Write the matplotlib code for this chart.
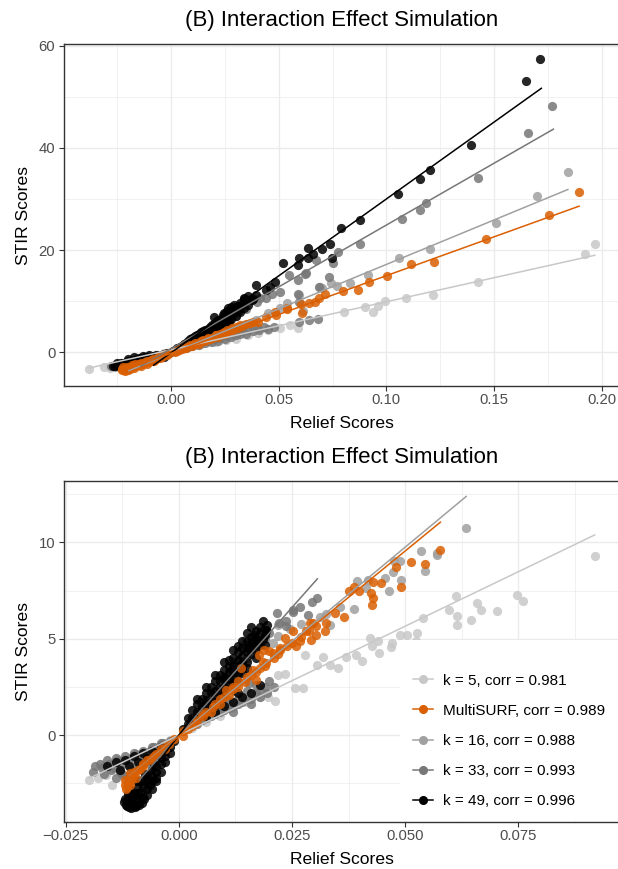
import numpy as np
import matplotlib
matplotlib.use("Agg")
import matplotlib.pyplot as plt
from matplotlib.lines import Line2D
from matplotlib.ticker import MultipleLocator, FuncFormatter

plt.rcParams['font.family'] = ['Liberation Sans', 'DejaVu Sans']

title = "(B) Interaction Effect Simulation"
series_labels = ['k = 5, corr = 0.981', 'MultiSURF, corr = 0.989', 'k = 16, corr = 0.988',
                 'k = 33, corr = 0.993', 'k = 49, corr = 0.996']
series_colors = ['#C8C8C8', '#D95F02', '#A0A0A0', '#777777', '#000000']

# ---- top panel: (relief, stir) pairs
top_k5 = np.array([
    (-0.0379, -3.26), (-0.0311, -2.8), (-0.0284, -3.1), (-0.0247, -2.5), (-0.0215, -2.2), (-0.018, -1.8),
    (-0.015, -1.5), (-0.012, -1.1), (-0.009, -0.8), (-0.006, -0.5), (-0.003, -0.2), (0.003, 0.6),
    (0.006, 0.9), (0.009, 1.2), (0.012, 1.5), (0.015, 1.8), (0.018, 2.0), (0.0211, 2.1), (0.0256, 2.4),
    (0.0302, 2.7), (0.0357, 3.4), (0.0403, 3.7), (0.0449, 4.4), (0.0507, 4.8), (0.0555, 5.3),
    (0.0592, 4.7), (0.0802, 7.8), (0.0901, 8.8), (0.0936, 7.9), (0.0962, 9.1), (0.0995, 10.1),
    (0.1093, 10.6), (0.1214, 11.2), (0.1425, 13.8), (0.1921, 19.2), (0.1967, 21.2)])
top_multisurf = np.array([
    (0.1894, 31.3), (0.1755, 26.8), (0.146, 22.1), (0.1223, 17.6), (0.1114, 17.2), (0.1002, 15.0),
    (0.0919, 13.8), (0.087, 12.2), (0.0797, 12.0), (0.0714, 11.5), (0.0687, 10.7), (0.0668, 9.9),
    (0.0641, 9.6), (0.0604, 9.4), (0.0608, 7.6), (0.054, 8.4), (0.0537, 8.6), (0.0485, 7.9),
    (0.049, 7.3), (0.044, 7.0), (0.0403, 6.0), (0.0381, 6.0), (0.0366, 5.8), (0.032, 5.3),
    (0.0284, 4.7), (0.0247, 4.0), (0.0211, 3.4), (0.0174, 2.7), (0.0137, 2.1), (0.0101, 1.4),
    (0.0064, 0.8), (0.0037, 0.5), (0.002, 0.1), (0.005, 0.6), (0.008, 1.2), (0.012, 1.6),
    (0.015, 2.5), (0.019, 2.9), (0.023, 3.6), (0.026, 4.3), (0.030, 4.9),
    (0.001, 0.2), (0.003, 0.3), (0.004, 0.7), (0.006, 1.0), (0.007, 0.9), (0.009, 1.5), (0.010, 1.2),
    (0.011, 1.8), (0.013, 1.7), (0.014, 2.3), (0.016, 2.3), (0.017, 2.9), (0.018, 2.6), (0.020, 3.0),
    (0.021, 3.3), (0.022, 3.1), (0.024, 3.7), (0.025, 3.6), (0.027, 4.2), (0.029, 4.4), (0.031, 4.7),
    (0.033, 5.2), (0.035, 5.5),
    (-0.0229, -3.5), (-0.021, -3.1), (-0.0192, -2.8), (-0.0165, -2.3), (-0.0137, -2.0),
    (-0.011, -1.7), (-0.0082, -1.3), (-0.0055, -0.8), (-0.0027, -0.4), (-0.022, -2.8),
    (-0.020, -3.4), (-0.017, -3.0), (-0.014, -2.6), (-0.011, -2.2), (-0.008, -1.7),
    (-0.005, -1.2), (-0.018, -2.5), (-0.015, -2.2),
    (-0.001, -0.2), (-0.002, -0.5), (-0.004, -0.6), (-0.004, -0.9), (-0.006, -1.0), (-0.007, -1.3),
    (-0.009, -1.4), (-0.010, -1.8), (-0.012, -1.9), (-0.013, -2.3), (-0.015, -2.5), (-0.016, -2.7),
    (-0.018, -2.9), (-0.019, -3.2), (-0.021, -3.4), (-0.0225, -3.3), (-0.0215, -3.6), (-0.0205, -2.9)])
top_k16 = np.array([
    (-0.026, -2.9), (-0.022, -2.6), (-0.018, -2.2), (-0.014, -1.8), (-0.010, -1.3), (-0.006, -0.8),
    (-0.002, -0.3), (0.003, 0.4), (0.006, 0.8), (0.009, 1.3), (0.012, 1.8), (0.015, 2.3),
    (0.018, 2.7), (0.021, 3.1), (0.024, 3.5), (0.0266, 3.7), (0.0302, 4.4), (0.0339, 5.3),
    (0.0394, 6.3), (0.0449, 7.6), (0.0507, 8.6), (0.054, 9.6), (0.0595, 11.2), (0.0614, 8.1),
    (0.0692, 12.8), (0.0703, 12.6), (0.0742, 13.6), (0.0769, 13.0), (0.083, 13.6), (0.0916, 15.1),
    (0.1059, 18.5), (0.1201, 20.3), (0.1509, 25.3), (0.170, 30.5), (0.1842, 35.2)])
top_k33 = np.array([
    (0.1769, 48.1), (0.1659, 42.9), (0.1425, 34.1), (0.1183, 29.3), (0.1158, 27.8), (0.1073, 26.1),
    (0.0879, 21.2), (0.0775, 19.6), (0.0751, 17.4), (0.0674, 18.0), (0.0623, 15.3), (0.0627, 15.6),
    (0.0549, 15.1), (0.0733, 14.8), (0.059, 14.1), (0.0504, 11.9), (0.0467, 11.5), (0.059, 11.4),
    (0.0412, 10.6), (0.0687, 12.7), (0.0595, 9.9),
    (0.064, 6.4), (0.0595, 6.0), (0.0683, 6.6), (0.007, 0.9), (0.010, 1.2), (0.013, 1.5),
    (0.016, 1.8), (0.019, 2.0), (0.022, 2.3), (0.025, 2.6), (0.028, 3.0), (0.030, 3.3),
    (0.032, 3.5), (0.035, 3.6), (0.038, 4.1), (0.041, 4.4), (0.045, 4.6), (0.048, 4.9),
    (0.005, 1.2), (0.010, 2.4), (0.015, 3.6), (0.020, 4.8), (0.025, 6.0), (0.030, 7.2),
    (0.035, 8.4), (0.040, 9.8), (0.044, 10.6),
    (0.004, 0.6), (0.006, 0.8), (0.008, 1.1), (0.012, 1.7), (0.014, 1.9), (0.017, 2.3), (0.020, 2.6),
    (0.023, 2.9), (0.026, 3.2), (0.029, 3.6), (0.031, 4.0), (0.033, 4.2), (0.036, 4.4), (0.040, 4.7),
    (0.043, 5.0), (0.008, 1.6), (0.012, 2.2), (0.016, 2.8), (0.020, 3.3), (0.024, 3.8), (0.028, 4.4),
    (0.032, 4.9), (0.036, 5.5),
    (-0.028, -2.6), (-0.024, -2.3), (-0.020, -2.0), (-0.016, -1.7), (-0.012, -1.3),
    (-0.008, -0.9), (-0.004, -0.5), (-0.026, -2.5), (-0.022, -2.2), (-0.018, -1.9), (-0.014, -1.5),
    (-0.010, -1.1), (-0.006, -0.7), (-0.002, -0.3)])
top_k49 = np.array([
    (0.1714, 57.3), (0.165, 53.1), (0.1392, 40.6), (0.1203, 35.7), (0.1158, 33.9), (0.1055, 30.9),
    (0.0879, 25.8), (0.0789, 24.4), (0.0738, 21.1), (0.0701, 20.3), (0.0637, 20.5), (0.0661, 19.2),
    (0.0637, 18.4), (0.0749, 18.4), (0.0595, 18.4), (0.0592, 17.1), (0.0518, 17.5), (0.0485, 13.8),
    (0.0458, 12.8), (0.0394, 13.2), (0.0441, 12.2), (0.0394, 11.3), (0.0339, 10.6), (0.0375, 10.2),
    (0.0293, 9.3), (0.0266, 8.6), (0.0247, 7.6), (0.0201, 7.0), (0.0229, 6.3),
    (0.002, 0.5), (0.004, 1.0), (0.005, 1.3), (0.006, 1.7), (0.008, 2.2), (0.009, 2.6),
    (0.010, 2.9), (0.011, 3.2), (0.012, 3.4), (0.013, 3.6), (0.014, 3.9), (0.015, 4.2),
    (0.016, 4.4), (0.017, 4.6), (0.018, 4.9), (0.019, 5.3), (0.020, 5.6), (0.021, 5.9),
    (0.022, 6.3), (0.024, 6.8), (0.026, 7.4), (0.028, 8.0), (0.030, 8.9), (0.032, 9.6),
    (0.035, 10.2), (0.036, 11.0), (0.038, 10.5), (0.007, 1.2), (0.010, 1.8), (0.012, 2.3),
    (0.015, 2.6), (0.018, 3.2), (0.020, 3.6), (0.023, 4.1), (0.016, 3.3), (0.013, 2.9),
    (0.003, 0.9), (0.003, 0.5), (0.005, 1.0), (0.007, 1.8), (0.007, 1.4), (0.009, 2.2), (0.011, 2.6),
    (0.011, 2.0), (0.013, 3.3), (0.014, 2.8), (0.015, 3.5), (0.017, 3.8), (0.017, 4.2), (0.019, 4.4),
    (0.019, 3.7), (0.021, 4.8), (0.021, 5.3), (0.022, 4.4), (0.023, 5.5), (0.024, 6.0), (0.025, 5.2),
    (0.025, 6.6), (0.027, 6.2), (0.027, 7.0), (0.029, 7.5), (0.029, 8.3), (0.031, 8.0), (0.031, 9.0),
    (0.033, 9.3), (0.034, 10.4), (0.026, 8.0), (0.028, 8.8), (0.024, 7.4),
    (0.004, 0.6), (0.006, 1.2), (0.008, 1.6), (0.010, 2.3), (0.012, 2.8), (0.014, 3.3), (0.016, 3.8),
    (0.018, 4.3), (0.020, 4.5), (0.022, 5.0), (0.024, 5.4), (0.026, 6.0), (0.028, 6.6), (0.030, 7.2),
    (0.032, 7.9), (0.034, 8.6), (0.036, 9.2),
    (-0.025, -2.4), (-0.022, -2.0), (-0.020, -1.7), (-0.018, -1.5), (-0.016, -1.3), (-0.014, -1.2),
    (-0.012, -1.0), (-0.010, -0.9), (-0.008, -0.8), (-0.006, -0.7), (-0.004, -0.5), (-0.002, -0.2),
    (-0.021, -2.3), (-0.017, -1.8), (-0.013, -1.5), (-0.009, -1.1), (-0.005, -0.8),
    (-0.026, -2.6), (-0.024, -2.2), (-0.023, -2.1), (-0.019, -1.6), (-0.015, -1.2), (-0.011, -0.9),
    (-0.007, -0.6), (-0.003, -0.3), (-0.019, -2.0), (-0.015, -1.6), (-0.011, -1.3), (-0.007, -1.0),
    (-0.003, -0.6), (-0.001, -0.1), (0.001, 0.2),
    (-0.027, -2.7), (-0.024, -2.6), (-0.021, -2.6), (-0.018, -2.2), (-0.015, -1.9), (-0.012, -1.6),
    (-0.009, -1.4), (-0.006, -1.1), (-0.003, -0.9), (-0.025, -2.0), (-0.020, -2.0), (-0.016, -1.8),
    (-0.013, -0.7), (-0.010, -0.5), (-0.017, -1.0), (-0.020, -1.3)])

# fitted lines (k=5, MultiSURF, k=16, k=33, k=49)
top_fit_slope = [94, 152, 174, 242, 301]
top_fit_icpt = [0.5, -0.2, -0.2, 0.7, -0.1]
top_fit_x0 = [-0.0379, -0.0235, -0.0195, -0.014, -0.008]
top_fit_x1 = [0.1967, 0.1894, 0.1842, 0.1775, 0.1719]

# ---- bottom panel
bot_k5 = np.array([
    (-0.0198, -2.35), (-0.0179, -2.23), (-0.0168, -1.59), (-0.0161, -2.06), (-0.0148, -2.58),
    (-0.0139, -1.37), (-0.012, -1.4), (-0.010, -1.1), (-0.008, -0.9), (-0.006, -0.7),
    (-0.004, -0.5), (-0.002, -0.25), (0.003, 0.35), (0.006, 0.7), (0.009, 1.0), (0.012, 1.4),
    (0.015, 1.7), (0.018, 2.0), (0.0196, 2.0), (0.0212, 1.75), (0.0218, 3.13), (0.0235, 3.17),
    (0.0257, 2.47), (0.0274, 2.44), (0.0279, 4.17), (0.0305, 3.65), (0.0318, 4.08), (0.0335, 3.65),
    (0.0351, 3.48), (0.037, 4.03), (0.0392, 4.17), (0.0405, 3.86), (0.0422, 5.03), (0.0427, 4.6),
    (0.044, 4.86), (0.0443, 4.26), (0.0469, 4.58), (0.047, 4.78), (0.0488, 5.17), (0.0505, 5.17),
    (0.0523, 4.86), (0.0527, 5.29), (0.054, 6.07), (0.0597, 6.47), (0.0612, 7.21), (0.0614, 6.19),
    (0.0614, 5.69), (0.0645, 5.97), (0.0658, 6.85), (0.0668, 6.5), (0.0704, 6.42), (0.0747, 7.25),
    (0.076, 6.94), (0.0919, 9.27)])
bot_multisurf = np.array([
    (0.0578, 9.62), (0.0545, 8.87), (0.0514, 8.98), (0.0479, 8.72), (0.0491, 7.71), (0.0446, 7.88),
    (0.0429, 7.94), (0.0425, 7.37), (0.0429, 7.11), (0.0426, 6.73), (0.0398, 7.5), (0.0388, 7.71),
    (0.0375, 7.5), (0.0366, 6.12), (0.0346, 6.36), (0.0326, 5.81), (0.0322, 5.38), (0.0304, 5.64),
    (0.0289, 5.81), (0.0287, 5.38), (0.0304, 5.2), (0.0293, 4.95), (0.0267, 4.86), (0.0252, 5.38),
    (0.0259, 4.6), (0.0234, 5.03), (0.0223, 4.43), (0.0208, 4.26), (0.0189, 4.43), (0.0186, 3.82),
    (0.0282, 5.38), (0.0296, 5.81), (0.0223, 4.51), (0.020, 4.34), (0.0178, 4.17), (0.0193, 3.74),
    (0.0164, 3.39), (0.0171, 2.87), (0.0145, 2.78), (0.0138, 3.48), (0.0119, 2.52), (0.0105, 2.35),
    (0.009, 1.9), (0.0075, 1.48), (0.006, 1.2), (0.0053, 0.97), (0.0038, 0.62), (0.002, 0.3),
    (0.001, 0.2), (0.003, 0.5), (0.004, 0.8), (0.005, 1.1), (0.007, 1.2), (0.008, 1.6), (0.009, 1.6),
    (0.010, 2.0), (0.011, 2.1), (0.012, 2.4), (0.013, 2.5), (0.013, 2.8), (0.015, 3.0), (0.016, 3.1),
    (0.017, 3.3), (0.018, 3.5), (0.019, 3.6), (0.021, 4.0), (0.022, 4.2), (0.024, 4.6), (0.025, 4.8),
    (0.027, 5.1),
    (0.0009, -0.05), (-0.0021, -0.45), (-0.0043, -0.9), (-0.0065, -1.3), (-0.0087, -1.75),
    (-0.0102, -2.1), (-0.0113, -2.5), (-0.012, -2.35), (-0.0109, -1.95), (-0.0079, -1.5),
    (-0.0115, -2.7), (-0.0095, -2.2), (-0.0055, -1.1), (-0.003, -0.7),
    (-0.001, -0.2), (-0.003, -0.6), (-0.004, -0.7), (-0.005, -1.0), (-0.006, -1.2), (-0.007, -1.3),
    (-0.008, -1.6), (-0.009, -1.8), (-0.010, -1.9), (-0.0105, -2.3), (-0.011, -2.2), (-0.012, -2.6),
    (-0.0118, -2.8), (-0.0108, -2.6)])
bot_k16 = np.array([
    (0.0635, 10.76), (0.057, 9.32), (0.057, 9.45), (0.0535, 9.55), (0.0544, 8.54), (0.0488, 9.01),
    (0.0475, 9.01), (0.0473, 8.46), (0.0491, 8.06), (0.0455, 8.13), (0.0464, 7.49), (0.0394, 8.01),
    (0.0418, 8.06), (0.0414, 7.63), (0.0388, 6.54), (0.0355, 6.67), (0.0326, 6.29), (0.0333, 5.72),
    (0.0311, 6.15), (0.027, 5.78), (0.0245, 5.5), (0.0219, 5.72), (0.0219, 5.12), (0.0208, 4.77),
    (0.0152, 4.6), (0.0145, 4.95), (0.012, 2.3), (0.009, 1.8), (0.006, 1.2), (0.003, 0.6),
    (-0.003, -0.6), (-0.006, -1.2), (-0.009, -1.7), (-0.0109, -2.1)])
bot_k33 = np.array([
    (0.0306, 7.09), (0.0295, 6.93), (0.0267, 6.64), (0.0252, 6.41), (0.0285, 6.24), (0.0217, 6.33),
    (0.0221, 5.81), (0.0237, 5.64), (0.0252, 6.5), (0.0237, 5.9), (0.019, 5.0), (0.017, 4.7),
    (0.005, 0.8), (0.007, 1.0), (0.009, 1.2), (0.011, 1.4), (0.013, 1.6), (0.015, 1.9),
    (0.017, 2.2), (0.019, 2.5), (0.020, 2.8), (0.012, 1.2), (0.016, 1.6), (0.018, 2.0),
    (0.014, 2.0), (0.010, 1.6), (0.0156, 2.7), (0.0125, 2.3), (0.003, 0.8), (0.006, 1.6),
    (0.009, 2.4), (0.012, 3.2), (0.015, 4.0),
    (0.004, 0.6), (0.006, 0.9), (0.008, 1.1), (0.010, 1.3), (0.012, 1.5), (0.014, 1.7), (0.016, 1.9),
    (0.018, 2.3), (0.0195, 2.2), (0.021, 2.5), (0.013, 1.9), (0.011, 1.8), (0.0085, 1.4), (0.017, 2.6),
    (0.015, 2.3), (0.004, 1.1), (0.008, 2.1), (0.011, 2.9), (0.014, 3.7), (0.017, 4.5), (0.020, 5.3),
    (-0.0175, -1.5), (-0.016, -1.3), (-0.015, -1.8), (-0.014, -1.2), (-0.013, -1.6), (-0.012, -1.1),
    (-0.011, -1.5), (-0.010, -0.9), (-0.009, -1.3), (-0.008, -0.8), (-0.007, -1.1), (-0.006, -0.6),
    (-0.005, -0.9), (-0.004, -0.4), (-0.003, -0.6), (-0.0165, -2.0), (-0.014, -2.2),
    (-0.0125, -2.0), (-0.0087, -2.3), (-0.006, -1.6), (-0.004, -1.0),
    (-0.019, -1.9), (-0.0185, -1.6), (-0.017, -1.7), (-0.0155, -1.5), (-0.0145, -1.7), (-0.0135, -1.3),
    (-0.013, -1.9), (-0.0115, -1.3), (-0.0105, -1.2), (-0.0095, -1.0), (-0.0085, -1.1),
    (-0.0075, -0.9), (-0.0065, -0.8), (-0.0055, -0.6), (-0.0045, -0.6), (-0.0035, -0.4),
    (-0.002, -0.3), (-0.012, -2.1), (-0.0105, -1.8), (-0.009, -1.6), (-0.0075, -1.4), (-0.006, -1.1)])
bot_k49 = np.array([
    (0.0192, 5.38), (0.0193, 5.46), (0.0178, 4.86), (0.0175, 4.86), (0.0167, 5.2), (0.0164, 4.6),
    (0.015, 4.3), (0.0185, 5.9), (0.018, 5.3), (0.002, 0.6), (0.004, 1.2), (0.006, 1.8),
    (0.008, 2.3), (0.010, 2.9), (0.011, 3.3), (0.012, 3.6), (0.013, 3.9), (0.014, 4.1),
    (0.015, 4.5), (0.016, 4.8), (0.017, 5.0), (0.010, 2.5), (0.012, 3.0), (0.014, 3.5),
    (0.013, 3.2), (0.015, 3.8), (0.016, 4.2), (0.011, 2.6), (0.009, 2.0), (0.008, 1.7),
    (0.007, 2.2), (0.009, 2.8), (0.011, 3.6), (0.013, 4.3), (0.012, 4.0), (0.010, 3.4),
    (0.008, 2.8), (0.006, 2.2), (0.004, 1.6),
    (0.001, 0.3), (0.003, 0.9), (0.003, 1.3), (0.005, 1.5), (0.005, 1.9), (0.007, 1.7), (0.007, 2.5),
    (0.009, 3.1), (0.010, 3.8), (0.011, 2.9), (0.012, 3.3), (0.013, 3.6), (0.013, 4.6), (0.014, 3.8),
    (0.014, 4.5), (0.015, 4.9), (0.016, 4.5), (0.016, 5.1), (0.017, 4.4), (0.017, 5.4), (0.018, 4.7),
    (0.019, 5.2), (0.014, 3.2), (0.012, 2.7), (0.010, 2.2), (0.008, 2.0), (0.006, 1.5),
    (0.002, 0.9), (0.004, 0.9), (0.004, 1.9), (0.006, 2.5), (0.008, 3.1), (0.010, 3.0), (0.011, 3.9),
    (0.012, 4.4), (0.013, 2.8), (0.015, 3.5), (0.015, 5.3), (0.016, 5.6), (0.018, 5.6), (0.0185, 5.0),
    (0.017, 4.0), (0.019, 4.7), (0.0195, 5.7), (0.014, 4.9), (0.009, 2.4), (0.007, 1.4), (0.005, 1.1),
    (0.006, 1.0), (0.008, 1.2), (0.010, 1.5), (0.012, 1.7), (0.014, 2.0), (0.016, 2.2), (0.018, 2.6),
    (0.009, 1.6), (0.013, 2.2),
    (-0.002, -0.6), (-0.004, -1.2), (-0.006, -1.8), (-0.007, -2.1), (-0.008, -2.4), (-0.009, -2.7),
    (-0.010, -3.0), (-0.0105, -3.3), (-0.011, -3.55), (-0.0108, -3.65), (-0.010, -3.6),
    (-0.009, -3.45), (-0.008, -3.2), (-0.0115, -3.4), (-0.0095, -3.7), (-0.007, -2.8),
    (-0.006, -2.4), (-0.005, -1.9), (-0.003, -1.1), (-0.0085, -3.0), (-0.0112, -3.2),
    (-0.0102, -3.7), (-0.0088, -3.6), (-0.0065, -2.6), (-0.005, -2.2),
    (-0.001, -0.3), (-0.003, -0.8), (-0.004, -1.5), (-0.005, -1.6), (-0.006, -2.1), (-0.007, -2.4),
    (-0.008, -2.7), (-0.009, -3.0), (-0.0095, -3.3), (-0.011, -3.72), (-0.0115, -3.65),
    (-0.0105, -3.5), (-0.0098, -3.1), (-0.0078, -3.3), (-0.0082, -3.5), (-0.0118, -3.6),
    (-0.0112, -3.0), (-0.0108, -2.8), (-0.0092, -2.4), (-0.0075, -2.0), (-0.0055, -1.5),
    (-0.002, -0.9), (-0.003, -1.4), (-0.004, -1.9), (-0.005, -2.4), (-0.006, -2.8), (-0.007, -3.1),
    (-0.0105, -3.8), (-0.0098, -3.75), (-0.0122, -3.45), (-0.012, -3.3), (-0.0113, -3.68),
    (-0.016, -1.6), (-0.014, -1.4), (-0.012, -1.3), (-0.010, -1.1), (-0.008, -0.9), (-0.006, -0.8),
    (-0.004, -0.6), (-0.013, -1.8), (-0.011, -1.6), (-0.009, -1.4), (-0.007, -1.2), (-0.005, -0.9)])

bot_fit_slope = [113, 192, 195, 265, 305]
bot_fit_icpt = [0.0, -0.05, 0.0, 0.0, 0.0]
bot_fit_x0 = [-0.0198, -0.0115, -0.0109, -0.0087, -0.0085]
bot_fit_x1 = [0.0919, 0.0578, 0.0635, 0.0306, 0.0192]

top_xlim, top_ylim = (-0.0496, 0.2084), (-6.58, 60.25)
bot_xlim, bot_ylim = (-0.0254, 0.0975), (-4.52, 13.2)


def minus_fmt(fmt):
    return FuncFormatter(lambda v, p: (fmt % v).replace('-', '\u2212'))


def draw_panel(ax, pts, slopes, icpts, x0s, x1s, xlim, ylim, xstep, ystep, xfmt):
    ax.set_facecolor('white')
    ax.set_xlim(xlim)
    ax.set_ylim(ylim)
    ax.xaxis.set_major_locator(MultipleLocator(xstep))
    ax.xaxis.set_minor_locator(MultipleLocator(xstep / 2))
    ax.yaxis.set_major_locator(MultipleLocator(ystep))
    ax.yaxis.set_minor_locator(MultipleLocator(ystep / 2))
    ax.xaxis.set_major_formatter(minus_fmt(xfmt))
    ax.yaxis.set_major_formatter(minus_fmt('%d'))
    ax.grid(which='major', color='#EBEBEB', lw=1.0, zorder=0)
    ax.grid(which='minor', color='#EBEBEB', lw=0.5, zorder=0)
    ax.set_axisbelow(True)
    ax.tick_params(which='major', length=3.6, width=0.8, color='#333333',
                   labelsize=10.7, labelcolor='#4D4D4D')
    ax.tick_params(axis='x', which='major', pad=1.2)
    ax.tick_params(axis='y', which='major', pad=2.7)
    ax.tick_params(which='minor', length=0)
    for sp in ax.spines.values():
        sp.set_color('#333333')
        sp.set_linewidth(1.0)
    # points: order k5, k16, k33, k49, MultiSURF (orange on top)
    for i in [0, 2, 3, 4, 1]:
        ax.scatter(pts[i][:, 0], pts[i][:, 1], s=44, color=series_colors[i],
                   alpha=0.85, linewidths=0, zorder=2)
    for i in [0, 2, 3, 4, 1]:
        xs = np.array([x0s[i], x1s[i]])
        ax.plot(xs, slopes[i] * xs + icpts[i], color=series_colors[i], lw=1.1, zorder=3)


fig = plt.figure(figsize=(6.18, 8.69), dpi=100)
ax1 = fig.add_axes([64 / 618, 1 - 386 / 869, 556 / 618, 341.7 / 869])
ax2 = fig.add_axes([64 / 618, 1 - 822.3 / 869, 556 / 618, 341.6 / 869])

draw_panel(ax1, [top_k5, top_multisurf, top_k16, top_k33, top_k49],
           top_fit_slope, top_fit_icpt, top_fit_x0, top_fit_x1,
           top_xlim, top_ylim, 0.05, 20, '%.2f')
draw_panel(ax2, [bot_k5, bot_multisurf, bot_k16, bot_k33, bot_k49],
           bot_fit_slope, bot_fit_icpt, bot_fit_x0, bot_fit_x1,
           bot_xlim, bot_ylim, 0.025, 5, '%.3f')

for ax, h in [(ax1, 341.7), (ax2, 341.6)]:
    ax.text(0.5, 1 + 23.5 / h, title, transform=ax.transAxes, ha='center', va='center',
            fontsize=16, color='black')
    ax.set_xlabel('Relief Scores', fontsize=12.6, color='black', va='center')
    ax.set_ylabel('STIR Scores', fontsize=12.6, color='black', va='center')
    ax.xaxis.set_label_coords(0.5, -37 / h)
    ax.yaxis.set_label_coords(-40 / 556, 0.5)

handles = [Line2D([], [], color=c, marker='o', markersize=5.5, lw=1.1) for c in series_colors]
leg = ax2.legend(handles, series_labels, loc='lower left',
                 bbox_to_anchor=(400 / 618, 1 - 821 / 869), bbox_transform=fig.transFigure,
                 fontsize=11, frameon=True, fancybox=False, framealpha=1,
                 facecolor='white', edgecolor='none', borderpad=0.83, borderaxespad=0,
                 handlelength=1.35, handletextpad=0.65, labelspacing=1.06,
                 title=' ', title_fontsize=4)
leg.set_zorder(5)

fig.savefig('out.png', dpi=100)
